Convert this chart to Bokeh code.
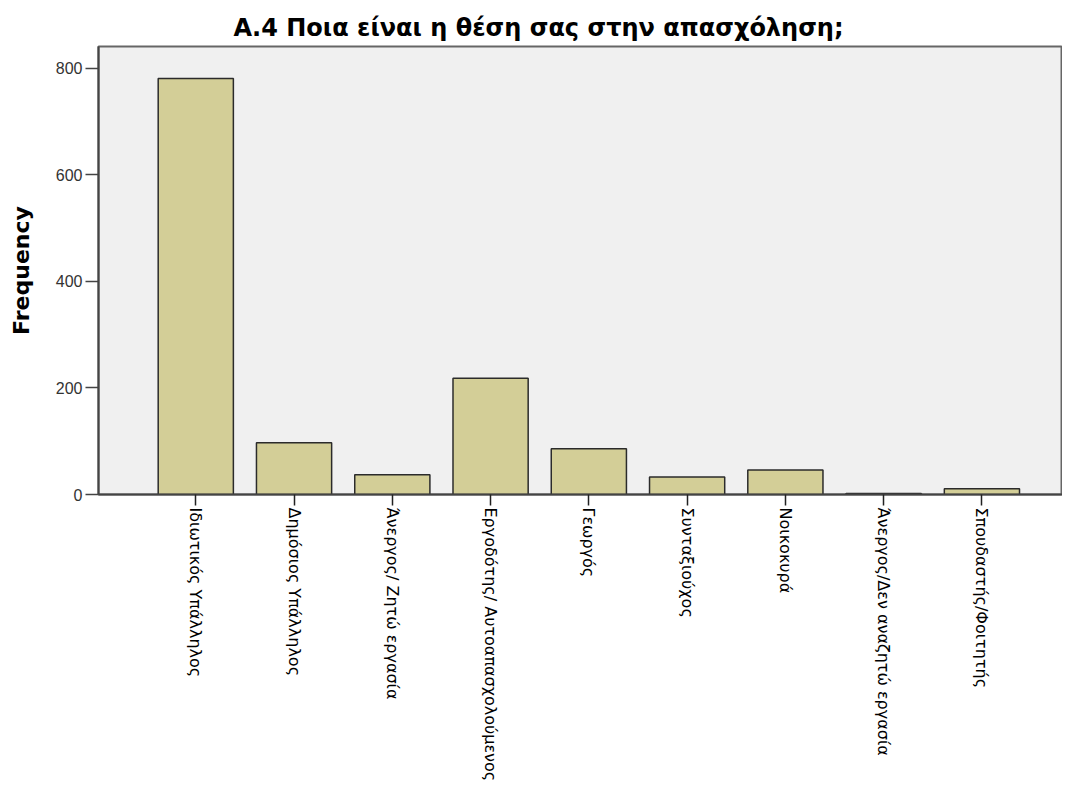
import math
from bokeh.plotting import figure
from bokeh.models import Range1d, FixedTicker, ColumnDataSource
from bokeh.embed import file_html
from bokeh.resources import INLINE

categories = [
    "Ιδιωτικός Υπάλληλος",
    "Δημόσιος Υπάλληλος",
    "Άνεργος/ Ζητώ εργασία",
    "Εργοδότης/ Αυτοαπασχολούμενος",
    "Γεωργός",
    "Συνταξιούχος",
    "Νοικοκυρά",
    "Άνεργος/Δεν αναζητώ εργασία",
    "Σπουδαστής/Φοιτητής",
]
frequency = [781, 97, 37, 218, 86, 33, 46, 2, 11]
y_ticks = [0, 200, 400, 600, 800]
title_text = "Α.4 Ποια είναι η θέση σας στην απασχόληση;"
y_label = "Frequency"

xpos = list(range(len(categories)))
src = ColumnDataSource(dict(x=xpos, top=frequency, label=categories))

p = figure(width=1062, height=791, output_backend="svg", toolbar_location=None,
           x_range=Range1d(-0.99, 8.82), y_range=Range1d(0, 841),
           min_border_left=98, min_border_right=0, min_border_top=46, min_border_bottom=297)

p.vbar(x="x", top="top", bottom=0, width=0.765, source=src,
       fill_color="#D3CE97", line_color="#2b2b2b", line_width=1.5)

p.background_fill_color = "#F0F0F0"
p.border_fill_color = "white"
p.outline_line_color = "#666666"
p.outline_line_width = 2
p.xgrid.visible = False
p.ygrid.visible = False

p.title.text = title_text
p.title.text_font = "DejaVu Sans"
p.title.text_font_style = "bold"
p.title.text_font_size = "24px"
p.title.text_color = "#000000"
p.title.align = "left"
p.title.offset = 135
p.title.standoff = 9

xa = p.xaxis[0]
xa.ticker = FixedTicker(ticks=xpos)
xa.major_label_overrides = {i: c for i, c in zip(xpos, categories)}
xa.major_label_orientation = -math.pi / 2
xa.major_label_text_font = "DejaVu Sans"
xa.major_label_text_font_size = "16px"
xa.major_label_text_color = "#000000"
xa.axis_line_color = "#444444"
xa.axis_line_width = 2
xa.major_tick_line_color = "#222222"
xa.major_tick_line_width = 1.5
xa.major_tick_in = 0
xa.major_tick_out = 11
xa.minor_tick_line_color = None
xa.major_label_standoff = 2

ya = p.yaxis[0]
ya.ticker = FixedTicker(ticks=y_ticks)
ya.axis_label = y_label
ya.axis_label_text_font = "DejaVu Sans"
ya.axis_label_text_font_style = "bold"
ya.axis_label_text_font_size = "22px"
ya.axis_label_text_color = "#000000"
ya.major_label_text_font = "Liberation Sans"
ya.major_label_text_font_size = "16px"
ya.major_label_text_color = "#333333"
ya.axis_line_color = "#444444"
ya.axis_line_width = 2
ya.major_tick_line_color = "#444444"
ya.major_tick_line_width = 1.5
ya.major_tick_in = 0
ya.major_tick_out = 13
ya.minor_tick_line_color = None
ya.major_label_standoff = 3
ya.axis_label_standoff = 19

open("out.html", "w").write(file_html(p, INLINE))
